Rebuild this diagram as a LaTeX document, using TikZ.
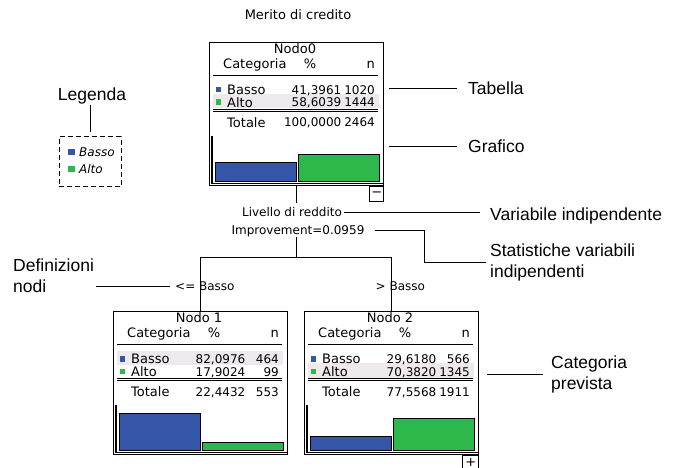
\documentclass[tikz,border=0pt]{standalone}
\usepackage{fontspec}
\setmainfont{Liberation Sans}
\newfontfamily\tfont{DejaVu Sans}
\definecolor{barblue}{HTML}{3556A8}
\definecolor{bargreen}{HTML}{2DB84B}
\definecolor{hlrow}{HTML}{EEE9ED}
\tikzset{
  lbl/.style={font=\fontsize{17.5}{21}\selectfont, inner sep=0pt, align=left},
  tt/.style={font=\tfont\fontsize{13}{15}\selectfont, inner sep=0pt, text height=9.5pt, text depth=0pt},
  nn/.style={font=\tfont\fontsize{12}{14}\selectfont, inner sep=0pt, text height=9pt, text depth=0pt, anchor=east},
  st/.style={font=\tfont\fontsize{12}{14}\selectfont, inner sep=0pt, text height=8.7pt, text depth=0pt},
  ctbox/.style={draw, line width=1.2pt, minimum width=174pt, minimum height=143pt, inner sep=0pt},
  conn/.style={line width=1pt},
  bar/.style={draw=black, line width=0.8pt},
  tbtn/.style={draw, line width=1pt, inner sep=0pt, anchor=north east, font=\tfont\fontsize{13}{15}\selectfont},
}
% #1 name, #2 title, #3-#8 values, #9 y of predicted row
\newcommand{\ctable}[9]{%
  \fill[hlrow] (4,#9-8.5) rectangle (170,#9+6);
  \node[ctbox, anchor=north west] (#1) at (0,0) {};
  \node[tt] (#1-t) at (86,6.5) {#2};
  \node[tt, anchor=west] (#1-h1) at (14,21.5) {Categoria};
  \node[tt] (#1-h2) at (101,21.5) {\%};
  \node[tt, anchor=east] (#1-h3) at (166,21.5) {n};
  \draw[line width=0.9pt] (4,33) -- (169,33);
  \fill[barblue] (6.5,45) rectangle (12,50.5);
  \node[tt, anchor=west] (#1-ba) at (18,48) {Basso};
  \node[nn] (#1-bp) at (132.5,48) {#3};
  \node[nn] (#1-bn) at (166,48) {#4};
  \fill[bargreen] (6.5,57.5) rectangle (12,63);
  \node[tt, anchor=west] (#1-aa) at (18,60.5) {Alto};
  \node[nn] (#1-ap) at (132.5,60.5) {#5};
  \node[nn] (#1-an) at (166,60.5) {#6};
  \draw[line width=0.8pt] (4,67.6) -- (169,67.6) (4,69.6) -- (169,69.6);
  \node[tt, anchor=west] (#1-ta) at (18,80.5) {Totale};
  \node[nn] (#1-tp) at (132.5,80.5) {#7};
  \node[nn] (#1-tn) at (166,80.5) {#8};
}
\newcommand{\cbars}[2]{%
  \draw[line width=1.5pt] (3,94) -- (3,141.3) -- (174,141.3);
  \filldraw[bar, fill=barblue] (6,139) rectangle (87,139-#1);
  \filldraw[bar, fill=bargreen] (89,139) rectangle (170,139-#2);
}
\begin{document}
\begin{tikzpicture}[x=1pt,y=-1pt]
\useasboundingbox (0,0) rectangle (675,468);

\node[tt] (title) at (298,15) {Merito di credito};

% root node
\begin{scope}[shift={(209,42)}]
  \ctable{n0}{Nodo0}{41,3961}{1020}{58,6039}{1444}{100,0000}{2464}{60.5}
  \cbars{18.6}{26.4}
\end{scope}
\node[tbtn, minimum width=14pt, minimum height=15pt] (n0m) at (n0.south east) {−};

% child nodes
\begin{scope}[shift={(113,311)}]
  \ctable{n1}{Nodo 1}{82,0976}{464}{17,9024}{99}{22,4432}{553}{48}
  \cbars{36.9}{8.1}
\end{scope}
\begin{scope}[shift={(304,311)}]
  \ctable{n2}{Nodo 2}{29,6180}{566}{70,3820}{1345}{77,5568}{1911}{60.5}
  \cbars{13.3}{31.7}
\end{scope}
\node[tbtn, minimum width=16pt, minimum height=13pt] (n2p) at (n2.south east) {+};

% split labels
\node[st] (var) at (292,212) {Livello di reddito};
\node[st] (imp) at (298,230) {Improvement=0.0959};
\coordinate (split) at (296,257);
\draw[conn, shorten >=4pt] (n0.south) -- (n0.south |- var.north);
\draw[conn, shorten <=2.5pt] (split |- imp.south) -- (split);
\draw[conn] (split) -| (n1.north);
\draw[conn] (split) -| (n2.north);
\node[st, anchor=west] (le) at (175,286) {<= Basso};
\node[st, anchor=west] (gt) at (375.5,286) {> Basso};

% legend
\node[lbl, anchor=north] (leg) at (92,88) {Legenda};
\node[draw, dashed, dash pattern=on 5pt off 3pt, line width=1pt, minimum width=62pt, minimum height=50pt, inner sep=0pt] (lbox) at (90,162) {};
\draw[conn, shorten >=4pt] (leg.south -| lbox.north) -- (lbox.north);
\fill[barblue] (68,149) rectangle (74.5,155.5);
\node[st, anchor=west, font=\tfont\itshape\fontsize{12}{14}\selectfont] (lb) at (79,152) {Basso};
\fill[bargreen] (68,166) rectangle (74.5,172.5);
\node[st, anchor=west, font=\tfont\itshape\fontsize{12}{14}\selectfont] (la) at (79,169) {Alto};

% annotations
\node[lbl, anchor=north west] (tab) at (468,81.7) {Tabella};
\node[lbl, anchor=north west] (gra) at (468,140) {Grafico};
\node[lbl, anchor=north west] (vi) at (490,207.7) {Variabile indipendente};
\node[lbl, anchor=west] (stat) at (490,262.5) {Statistiche variabili\\indipendenti};
\node[lbl, anchor=north west] (defn) at (13,259) {Definizioni\\nodi};
\node[lbl, anchor=west] (cp) at (551,374) {Categoria\\prevista};
\coordinate (sbend) at (424,0);

\draw[conn, shorten <=5pt, shorten >=11pt] (n0.east |- tab.west) -- (tab.west);
\draw[conn, shorten <=5pt, shorten >=11pt] (n0.east |- gra.west) -- (gra.west);
\draw[conn, shorten <=2pt, shorten >=10pt] (var.east) -- (var.east -| vi.west);
\draw[conn, shorten <=10pt, shorten >=4pt] (imp.east) -- (imp.east -| sbend) |- (stat.west);
\draw[conn, shorten <=2pt, shorten >=5pt] (defn.east |- le.west) -- (le.west);
\draw[conn, shorten <=8pt, shorten >=8pt] (n2.east |- cp.west) -- (cp.west);
\end{tikzpicture}
\end{document}
